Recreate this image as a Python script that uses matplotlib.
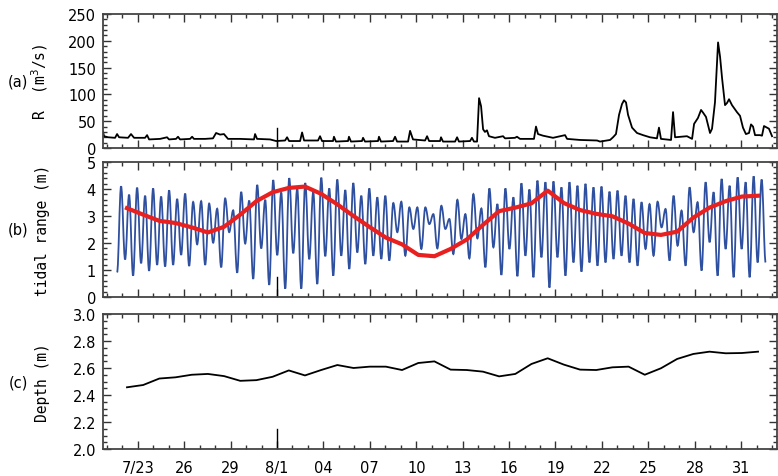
import numpy as np
import matplotlib
matplotlib.use('Agg')
import matplotlib.pyplot as plt
from matplotlib.ticker import MultipleLocator, FormatStrFormatter
from matplotlib.path import Path
from matplotlib.patches import PathPatch

# time axis: days counted from 8/1 00:00
# (a) river discharge R (m3/s)
r_day = [-11.25, -11.18, -10.92, -10.47, -10.34, -10.21, -9.63, -9.44, -9.24, -8.53,
         -8.40, -8.27, -7.56, -7.11, -6.98, -6.53, -6.40, -6.27, -5.62, -5.49,
         -5.37, -4.65, -4.14, -3.94, -3.68, -3.43, -3.17, -2.39, -1.49, -1.42,
         -1.29, -0.45, -0.06, 0.52, 0.65, 0.78, 1.49, 1.62, 1.75, 2.65,
         2.78, 2.91, 3.62, 3.68, 3.81, 4.59, 4.65, 4.78, 5.49, 5.56,
         5.69, 6.53, 6.59, 6.72, 7.50, 7.63, 7.76, 8.47, 8.60, 8.79,
         9.57, 9.70, 9.83, 10.54, 10.60, 10.73, 11.51, 11.64, 11.76, 12.48,
         12.60, 12.73, 12.93, 13.06, 13.19, 13.32, 13.44, 13.57, 13.70, 14.09,
         14.61, 14.74, 15.38, 15.51, 15.71, 16.61, 16.74, 16.87, 17.19, 17.84,
         18.62, 18.75, 19.59, 20.69, 20.88, 21.53, 21.72, 21.91, 22.11, 22.30,
         22.43, 22.56, 22.69, 22.95, 23.27, 23.66, 24.11, 24.56, 24.69, 24.82,
         25.47, 25.60, 25.73, 26.50, 26.83, 26.96, 27.21, 27.41, 27.54, 27.73,
         27.99, 28.12, 28.31, 28.51, 28.64, 28.77, 28.96, 29.09, 29.22, 29.41,
         29.73, 29.93, 30.12, 30.31, 30.51, 30.64, 30.77, 30.90, 31.22, 31.35,
         31.48, 31.67, 31.80, 32.00]
r_val = [30, 22, 20, 19, 26, 20, 19, 26, 19, 19,
         24, 16, 17, 20, 16, 17, 21, 16, 17, 21,
         17, 17, 18, 28, 25, 26, 17, 17, 16, 26,
         17, 16, 13, 14, 20, 13, 13, 29, 14, 14,
         22, 13, 13, 21, 12, 13, 21, 12, 13, 19,
         12, 13, 21, 12, 13, 21, 12, 12, 32, 16,
         14, 22, 13, 13, 20, 12, 12, 20, 12, 13,
         19, 12, 12, 93, 78, 35, 30, 33, 22, 19,
         22, 18, 19, 21, 17, 17, 40, 26, 23, 19,
         24, 17, 15, 14, 12, 15, 20, 26, 62, 82,
         89, 85, 62, 38, 28, 24, 20, 18, 38, 17,
         15, 67, 20, 22, 17, 45, 56, 71, 66, 58,
         28, 36, 85, 197, 170, 130, 80, 84, 91, 80,
         67, 60, 38, 26, 28, 44, 40, 24, 24, 23,
         41, 38, 36, 22]

# (b) tide level extremes (m): start, then high/low alternately
tide_t0 = -10.34
tide_step = 0.2588
tide = [0.91,
        4.10, 1.39, 3.79, 0.79, 4.05, 1.25, 3.75, 0.97, 4.02, 1.19,
        3.72, 1.13, 3.95, 1.19, 3.63, 1.56, 3.83, 1.15, 3.52, 1.95,
        3.55, 1.19, 3.46, 2.01, 3.27, 1.10, 3.65, 2.40, 3.21, 0.90,
        3.89, 1.98, 3.57, 0.67, 4.15, 1.80, 3.60, 0.45, 4.33, 1.55,
        3.87, 0.31, 4.40, 1.62, 4.02, 0.31, 4.22, 1.40, 3.90, 0.48,
        4.42, 1.51, 4.02, 0.79, 4.35, 1.53, 3.96, 1.04, 4.22, 1.65,
        3.75, 1.22, 4.02, 1.53, 3.69, 1.41, 3.75, 1.35, 3.48, 2.40,
        3.53, 1.53, 3.32, 2.52, 3.32, 1.78, 3.32, 2.70, 3.07, 1.80,
        3.38, 2.52, 2.89, 1.59, 3.60, 2.15, 3.07, 1.43, 3.81, 2.17,
        3.28, 1.10, 4.02, 1.84, 3.44, 0.82, 4.02, 1.78, 3.69, 0.77,
        4.21, 1.53, 3.98, 0.73, 4.31, 1.47, 4.25, 0.35, 4.28, 1.47,
        4.06, 0.79, 4.25, 1.28, 4.12, 0.94, 4.19, 1.28, 4.06, 1.16,
        4.09, 1.28, 3.90, 1.41, 3.94, 1.53, 3.75, 1.28, 3.63, 1.16,
        3.51, 1.78, 3.44, 1.53, 3.53, 2.58, 3.26, 1.35, 3.75, 1.90,
        3.20, 1.16, 4.06, 2.40, 3.51, 0.98, 4.25, 2.03, 3.88, 0.79,
        4.37, 1.78, 4.12, 0.73, 4.43, 1.78, 4.25, 0.73, 4.47, 1.28,
        4.35, 1.28]

# tidal-day values (b red = tidal range, c = depth)
day_t0 = -9.7
day_step = 1.046
tidal_range = [3.29, 3.05, 2.82, 2.74, 2.58, 2.39, 2.60, 3.05, 3.55, 3.88,
               4.04, 4.09, 3.82, 3.43, 3.00, 2.59, 2.20, 1.95, 1.56, 1.51,
               1.78, 2.13, 2.67, 3.18, 3.31, 3.47, 3.94, 3.48, 3.22, 3.08,
               2.99, 2.72, 2.37, 2.30, 2.42, 2.94, 3.31, 3.55, 3.72, 3.75]
depth = [2.457, 2.474, 2.522, 2.531, 2.550, 2.556, 2.540, 2.505, 2.510, 2.535,
         2.582, 2.545, 2.585, 2.622, 2.600, 2.610, 2.610, 2.585, 2.637, 2.649,
         2.588, 2.585, 2.573, 2.538, 2.556, 2.630, 2.672, 2.625, 2.588, 2.585,
         2.605, 2.610, 2.550, 2.598, 2.667, 2.704, 2.721, 2.709, 2.711, 2.721]

tick_days = [-9, -6, -3, 0, 3, 6, 9, 12, 15, 18, 21, 24, 27, 30]
tick_labels = ['7/23', '26', '29', '8/1', '04', '07', '10', '13', '16',
               '19', '22', '25', '28', '31']

tide_t = tide_t0 + tide_step * np.arange(len(tide))
day_t = day_t0 + day_step * np.arange(len(depth))

plt.rcParams['font.family'] = ['DejaVu Sans']
fig = plt.figure(figsize=(7.78, 4.77), dpi=100)
W, H = 778.0, 477.0
left, right = 103, 777
boxes = [(15, 149), (163, 298), (315, 450)]
axes = [fig.add_axes([left / W, 1 - b / H, (right - left) / W, (b - t) / H]) for t, b in boxes]
ax_a, ax_b, ax_c = axes

ax_a.plot(r_day, r_val, color='black', lw=1.3)
ax_a.set_ylim(0, 250)
ax_a.yaxis.set_major_locator(MultipleLocator(50))
ax_a.yaxis.set_minor_locator(MultipleLocator(10))

# tide curve: smooth bezier pieces between successive high / low waters
verts = [(tide_t[0], tide[0])]
codes = [Path.MOVETO]
d = tide_step * 0.38
for i in range(1, len(tide)):
    verts += [(tide_t[i - 1] + d, tide[i - 1]), (tide_t[i] - d, tide[i]), (tide_t[i], tide[i])]
    codes += [Path.CURVE4] * 3
ax_b.add_patch(PathPatch(Path(verts, codes), fill=False, edgecolor='#2f4f9f', lw=1.3))
ax_b.plot(day_t, tidal_range, color='#e8201f', lw=3)
ax_b.set_ylim(0, 5)
ax_b.yaxis.set_major_locator(MultipleLocator(1))
ax_b.yaxis.set_minor_locator(MultipleLocator(0.2))

ax_c.plot(day_t, depth, color='black', lw=1.3)
ax_c.set_ylim(2.0, 3.0)
ax_c.yaxis.set_major_locator(MultipleLocator(0.2))
ax_c.yaxis.set_minor_locator(MultipleLocator(0.05))
ax_c.yaxis.set_major_formatter(FormatStrFormatter('%.1f'))

ylabels = ['R  (m$^3$/s)', 'tidal range (m)', 'Depth (m)']
tags = ['(a)', '(b)', '(c)']
for ax, lab, tag, (t, b) in zip(axes, ylabels, tags, boxes):
    ax.set_xlim(-11.25, 32.32)
    ax.set_xticks(tick_days)
    ax.xaxis.set_minor_locator(MultipleLocator(1))
    ax.tick_params(which='both', direction='in', top=True, right=True,
                   labelsize=10.5, colors='#333333')
    ax.tick_params(which='major', length=6, width=1)
    ax.tick_params(which='minor', length=3, width=1)
    ax.tick_params(axis='x', labelcolor='black', pad=8)
    ax.tick_params(axis='y', labelcolor='black', pad=5)
    for s in ax.spines.values():
        s.set_linewidth(1.3)
        s.set_color('#444444')
    ax.axvline(0, ymin=0, ymax=20 / (b - t), color='black', lw=1)
    ax.set_ylabel(lab, family=['DejaVu Sans Mono'], fontsize=10.5)
    ax.yaxis.set_label_coords(-0.079, 0.5)
    fig.text(18 / W, 1 - (t + b) / 2 / H, tag, fontsize=10.5, ha='center', va='center')

ax_a.set_xticklabels([])
ax_b.set_xticklabels([])
ax_c.set_xticklabels(tick_labels)

fig.savefig('out.png', dpi=100)
